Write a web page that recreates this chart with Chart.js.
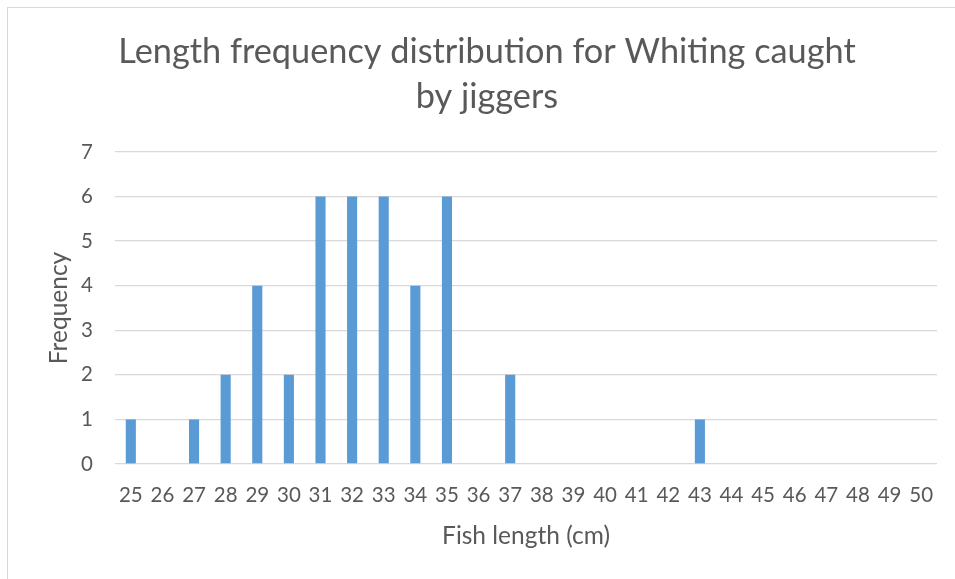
<!DOCTYPE html>
<html>
<head>
<meta charset="utf-8">
<script src="https://cdn.jsdelivr.net/npm/chart.js@4.4.1/dist/chart.umd.min.js"></script>
<style>
  html, body { margin: 0; padding: 0; background: #fff; }
  #wrap { position: relative; width: 955px; height: 579px; overflow: hidden; }
  #frame { position: absolute; left: 7px; top: 7px; width: 1200px; height: 1200px; border: 1px solid #d9d9d9; box-sizing: border-box; }
  canvas { position: absolute; left: 0; top: 0; }
</style>
</head>
<body>
<div id="wrap">
  <div id="frame"></div>
  <canvas id="c" width="955" height="579"></canvas>
</div>
<script>
const categories = ["25","26","27","28","29","30","31","32","33","34","35","36","37","38","39","40","41","42","43","44","45","46","47","48","49","50"];
const frequency  = [1,0,1,2,4,2,6,6,6,4,6,0,2,0,0,0,0,0,1,0,0,0,0,0,0,0];
const titleLines = ["Length frequency distribution for Whiting caught", "by jiggers"];
const xTitle = "Fish length (cm)";
const yTitle = "Frequency";

const FONT = "Lato, 'Open Sans', sans-serif";
const TXT = "#595959";
const GRID = "#d9d9d9";

new Chart(document.getElementById('c'), {
  type: 'bar',
  data: {
    labels: categories,
    datasets: [{
      label: 'Frequency',
      data: frequency,
      backgroundColor: '#5b9bd5',
      borderWidth: 0,
      barPercentage: 0.32,
      categoryPercentage: 1.0
    }]
  },
  options: {
    responsive: false,
    animation: false,
    devicePixelRatio: 1,
    layout: { padding: { left: 37, right: 18, top: 29, bottom: 28 } },
    plugins: {
      legend: { display: false },
      tooltip: { enabled: false },
      title: {
        display: true,
        text: titleLines,
        color: TXT,
        font: { family: FONT, size: 34.3, weight: 'normal', lineHeight: 45/34.3 },
        padding: { top: 0, bottom: 33 }
      }
    },
    scales: {
      x: {
        grid: { display: false, drawTicks: false },
        border: { display: false },
        ticks: { color: TXT, font: { family: FONT, size: 20.5 }, padding: 19, maxRotation: 0, autoSkip: false },
        title: { display: true, text: xTitle, color: TXT, font: { family: FONT, size: 24.5 }, padding: { top: 0, bottom: 0 } },
        afterFit: (s) => { s.height = 87; }
      },
      y: {
        min: 0, max: 7,
        grid: { color: GRID, lineWidth: 1.3, drawTicks: false },
        border: { display: false },
        ticks: { stepSize: 1, color: TXT, font: { family: FONT, size: 20.5 }, padding: 22 },
        title: { display: true, text: yTitle, color: TXT, font: { family: FONT, size: 24.5 }, padding: { top: 7, bottom: 0 } },
        afterFit: (s) => { s.width = 78; }
      }
    }
  }
});
</script>
</body>
</html>
